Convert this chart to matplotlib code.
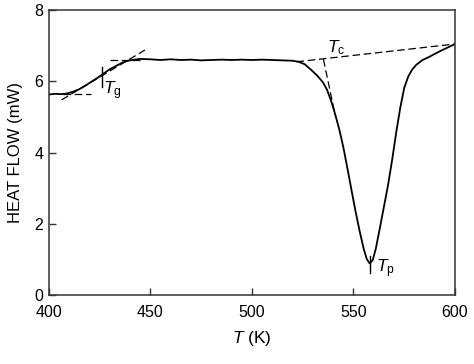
import numpy as np
import matplotlib
matplotlib.use("Agg")
import matplotlib.pyplot as plt

plt.rcParams['font.family'] = ['Liberation Sans', 'DejaVu Sans']
plt.rcParams['mathtext.fontset'] = 'custom'
plt.rcParams['mathtext.rm'] = 'Liberation Sans'
plt.rcParams['mathtext.it'] = 'Liberation Sans:italic'

# DSC trace (temperature in K, heat flow in mW)
temp = [400, 403, 406, 409, 412, 415, 418, 421, 424, 427, 430, 433, 436, 439,
        442, 445, 450, 455, 460, 465, 470, 475, 480, 485, 490, 495, 500, 505,
        510, 515, 520, 523, 526, 529, 532, 535, 537, 539, 541, 543, 545, 547,
        549, 551, 553, 555, 556.5, 558, 559.5, 561, 563, 565, 567, 569, 571,
        573, 575, 577, 579, 581, 584, 587, 590, 593, 596, 600]
heat = [5.63, 5.65, 5.64, 5.66, 5.71, 5.78, 5.88, 5.99, 6.10, 6.22, 6.34, 6.43,
        6.52, 6.58, 6.61, 6.63, 6.62, 6.60, 6.62, 6.60, 6.61, 6.59, 6.60, 6.61,
        6.60, 6.61, 6.60, 6.61, 6.60, 6.59, 6.58, 6.55, 6.48, 6.33, 6.17, 5.97,
        5.76, 5.45, 5.07, 4.65, 4.15, 3.56, 2.95, 2.35, 1.80, 1.30, 1.01, 0.88,
        0.98, 1.30, 1.88, 2.48, 3.08, 3.78, 4.55, 5.25, 5.82, 6.14, 6.34, 6.47,
        6.60, 6.68, 6.77, 6.86, 6.94, 7.05]

# construction lines (tangents / baselines)
tg_slope_x = [406.3, 447.3]
tg_slope_y = [5.48, 6.88]
tg_low_x = [407, 421]
tg_low_y = [5.65, 5.65]
tg_high_x = [430, 445]
tg_high_y = [6.60, 6.60]
tc_base_x = [522, 600]
tc_base_y = [6.55, 7.05]
tc_tan_x = [535.2, 541]
tc_tan_y = [6.62, 5.05]

fig = plt.figure(figsize=(4.74, 3.64), dpi=100)
ax = fig.add_axes([0.103, 0.19, 0.857, 0.782])

ax.plot(temp, heat, color='black', lw=1.3)

dash = dict(color='black', lw=0.9, dashes=(6, 3))
ax.plot(tg_slope_x, tg_slope_y, **dash)
ax.plot(tg_low_x, tg_low_y, **dash)
ax.plot(tg_high_x, tg_high_y, **dash)
ax.plot(tc_base_x, tc_base_y, **dash)
ax.plot(tc_tan_x, tc_tan_y, **dash)

# markers
ax.plot([426, 426], [5.83, 6.39], color='black', lw=1)
ax.plot([558.1, 558.1], [0.61, 1.08], color='black', lw=1)

ax.text(426.8, 5.74, r'$T_\mathrm{g}$', fontsize=12.5, va='center')
ax.text(537, 6.95, r'$T_\mathrm{c}$', fontsize=12.5, va='center')
ax.text(561, 0.74, r'$T_\mathrm{p}$', fontsize=12.5, va='center')

ax.set_xlim(400, 600)
ax.set_ylim(0, 8)
ax.set_xticks([400, 450, 500, 550, 600])
ax.set_yticks([0, 2, 4, 6, 8])
ax.tick_params(direction='in', length=5, width=1, labelsize=11.5, color='#333333')
ax.tick_params(axis='x', pad=7)
ax.tick_params(axis='y', pad=4)
for s in ax.spines.values():
    s.set_color('#333333')
    s.set_linewidth(1.1)

ax.set_xlabel(r'$T$ (K)', fontsize=12.5, labelpad=7)
ax.set_ylabel('HEAT FLOW (mW)', fontsize=12, labelpad=8)

fig.savefig('out.png', dpi=100)
